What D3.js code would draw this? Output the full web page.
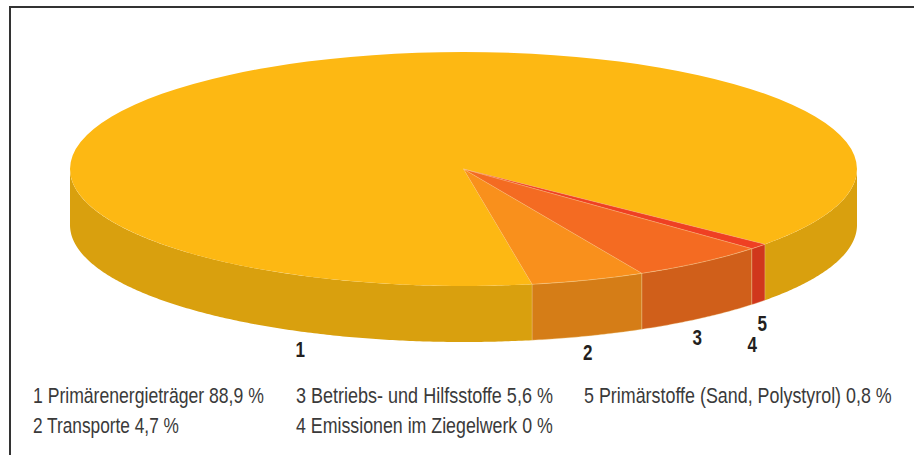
<!DOCTYPE html>
<html lang="de"><head><meta charset="utf-8">
<script src="https://cdn.jsdelivr.net/npm/d3@7"></script>
<style>
html,body{margin:0;padding:0;background:#fff;overflow:hidden}
svg{display:block}
text{font-family:"Liberation Sans",sans-serif}
</style></head><body>
<svg id="c" width="914" height="455"></svg>
<script>
const categories = ["1","2","3","4","5"];
const names = ["Primärenergieträger","Transporte","Betriebs- und Hilfsstoffe","Emissionen im Ziegelwerk","Primärstoffe (Sand, Polystyrol)"];
const values = [88.9,4.7,5.6,0,0.8];
const valueLabels = ["88,9 %","4,7 %","5,6 %","0 %","0,8 %"];
const topColors = ["#FDB813","#F9901C","#F46B22","#F05A22","#EF4023"];
const sideColors = ["#D9A00E","#D57D17","#D05F1A","#B8541C","#D0371C"];

const W=914,H=455,cx=463.5,cy=169,rx=393.5,ry=117,depth=56;
const svg=d3.select("#c");

// frame
const framePath=d3.path();
framePath.moveTo(10,H);framePath.lineTo(10,7);framePath.lineTo(W,7);
svg.append("path").attr("d",framePath.toString()).attr("fill","none").attr("stroke","#333").attr("stroke-width",2);

const deg=Math.PI/180;
const start=Math.PI-50*deg;
const pie=d3.pie().value(d=>d).sort(null).startAngle(start).endAngle(start-2*Math.PI);
const arcs=pie(values);

// walls: only the part of each slice facing the viewer
const frontBands=[[Math.PI/2,3*Math.PI/2],[-3*Math.PI/2,-Math.PI/2]];
const wall=d=>{
  const hi=Math.max(d.startAngle,d.endAngle), lo=Math.min(d.startAngle,d.endAngle);
  let out="";
  frontBands.forEach(([b0,b1])=>{
    const a0=Math.max(lo,b0), a1=Math.min(hi,b1);
    if(a1<=a0) return;
    const n=Math.max(2,Math.ceil((a1-a0)/(0.5*deg)));
    const as=d3.range(n+1).map(i=>a0+(a1-a0)*i/n);
    const up=as.map(a=>[cx+rx*Math.sin(a),cy-ry*Math.cos(a)]);
    const low=as.slice().reverse().map(a=>[cx+rx*Math.sin(a),cy-ry*Math.cos(a)+depth]);
    out+=d3.line()(up.concat(low))+"Z";
  });
  return out;
};
svg.append("g").selectAll("path").data(arcs).join("path")
  .attr("d",wall).attr("fill",(d,i)=>sideColors[i])
  .attr("stroke","#f3d9a0").attr("stroke-width",d=>d.value>0&&d.index!==0?0.5:0).attr("stroke-opacity",0.7);

// top
const arc=d3.arc().innerRadius(0).outerRadius(rx);
svg.append("g").attr("transform",`translate(${cx},${cy}) scale(1,${ry/rx})`)
  .selectAll("path").data(arcs).join("path")
  .attr("d",arc).attr("fill",(d,i)=>topColors[i])
  .attr("stroke",(d,i)=>i===0?"none":"#fcd08a").attr("stroke-width",d=>d.value>0?0.6:0).attr("stroke-opacity",0.75);

// condense a text horizontally to a target width, keeping its true box
function condense(sel,xOf,yOf,widthOf){
  sel.each(function(d,i){
    const natural=this.getComputedTextLength();
    d3.select(this).attr("transform",`translate(${xOf(d,i)},${yOf(d,i)}) scale(${widthOf(d,i)/natural},1)`);
  });
}

// numbers
const numberPos=[[295.5,357],[583,359.5],[692.5,345],[747.5,352],[757.5,331]];
svg.append("g").selectAll("text").data(categories).join("text")
  .attr("font-size",21.5).attr("font-weight",700).attr("fill","#231f20").text(d=>d)
  .call(condense,(d,i)=>numberPos[i][0],(d,i)=>numberPos[i][1],()=>9.5);

// legend
const legendPos=[[33,403,231],[33,433,146],[296,403,257],[296,433,257],[584,403,308]];
svg.append("g").selectAll("text").data(categories).join("text")
  .attr("font-size",22.5).attr("fill","#3a3a3a")
  .text((d,i)=>`${d} ${names[i]} ${valueLabels[i]}`)
  .call(condense,(d,i)=>legendPos[i][0],(d,i)=>legendPos[i][1],(d,i)=>legendPos[i][2]);
</script></body></html>
